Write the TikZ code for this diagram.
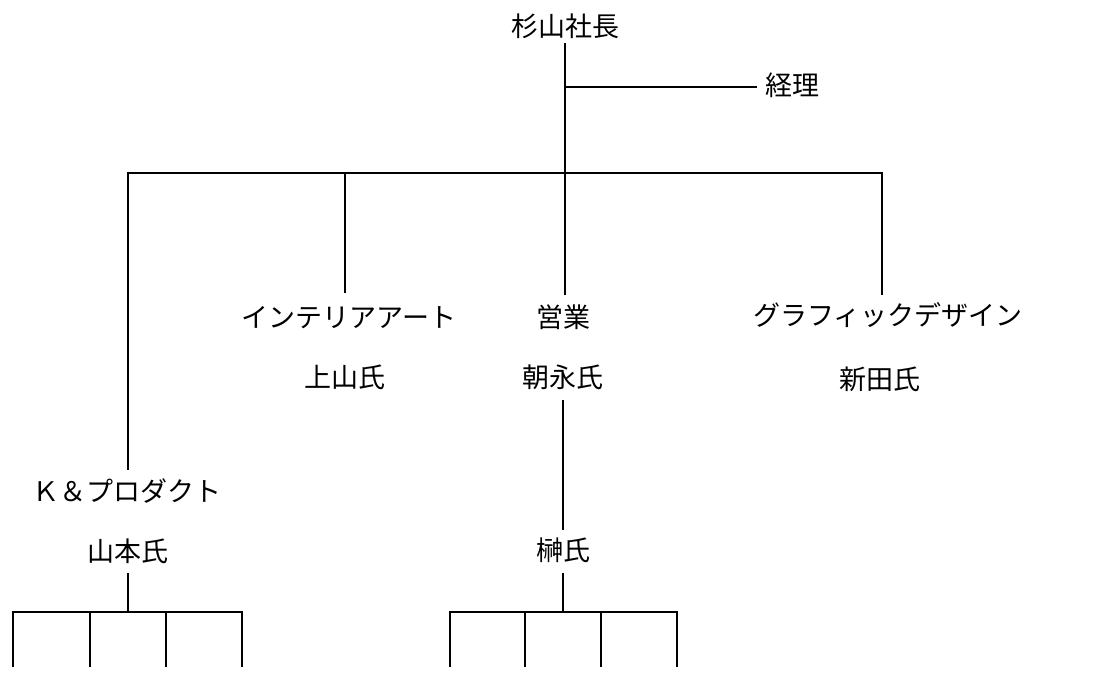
\documentclass[tikz,border=0pt]{standalone}
\usepackage{fontspec}
\newfontfamily\jpf{Noto Sans CJK JP}
\tikzset{
  lab/.style={inner sep=0pt, outer sep=0pt, text height=21pt, text depth=3pt,
              font=\jpf\fontsize{27}{30}\selectfont},
  conn/.style={line width=1.8pt, black}
}
\begin{document}
\begin{tikzpicture}[x=1pt,y=-1pt]
\useasboundingbox (0,0) rectangle (1104,695);
% labels
\node[lab] (pres) at (565,28) {杉山社長};
\node[lab,anchor=west] (keiri) at (765,87) {経理};
\node[lab] (ia)  at (349,318) {インテリアアート};
\node[lab] (uey) at (345,379) {上山氏};
\node[lab] (eig) at (563,318) {営業};
\node[lab] (tom) at (563,378) {朝永氏};
\node[lab] (gd)  at (888,317) {グラフィックデザイン};
\node[lab] (nit) at (880,380) {新田氏};
\node[lab] (kp)  at (127,492) {Ｋ＆プロダクト};
\node[lab] (ymt) at (128,552) {山本氏};
\node[lab] (sak) at (563,551) {榊氏};
% coordinates
\coordinate (bar) at (565,173);
\coordinate (yb) at (128,612);
\coordinate (sb) at (563,612);
\coordinate (a1) at (13,667);
\coordinate (a2) at (90,667);
\coordinate (a3) at (166,667);
\coordinate (a4) at (242,667);
\coordinate (b1) at (450,667);
\coordinate (b2) at (525,667);
\coordinate (b3) at (601,667);
\coordinate (b4) at (677,667);
% president trunk
\draw[conn, shorten <=3pt, shorten >=11pt] ([xshift=0pt]pres.south) -- ([xshift=2pt]eig.north);
\draw[conn, shorten >=8pt] (pres.south |- keiri.west) -- (keiri.west);
% main bar with outer drops
\draw[conn, shorten <=10pt, shorten >=10pt]
  ([xshift=1pt]kp.north) -- ([xshift=1pt]kp.north |- bar) -- ([xshift=-6pt]gd.north |- bar) -- ([xshift=-6pt]gd.north);
\draw[conn, shorten >=13pt] ([xshift=-4pt]ia.north |- bar) -- ([xshift=-4pt]ia.north);
% eigyo chain
\draw[conn, shorten <=10pt, shorten >=9pt] (tom.south) -- (sak.north);
% yamamoto group
\draw[conn, shorten <=9pt] (ymt.south) -- (yb);
\draw[conn] (a1) -- (a1 |- yb) -- (a4 |- yb) -- (a4);
\draw[conn] (a2 |- yb) -- (a2);
\draw[conn] (a3 |- yb) -- (a3);
% sakaki group
\draw[conn, shorten <=10pt] (sak.south) -- (sb);
\draw[conn] (b1) -- (b1 |- sb) -- (b4 |- sb) -- (b4);
\draw[conn] (b2 |- sb) -- (b2);
\draw[conn] (b3 |- sb) -- (b3);
\end{tikzpicture}
\end{document}
